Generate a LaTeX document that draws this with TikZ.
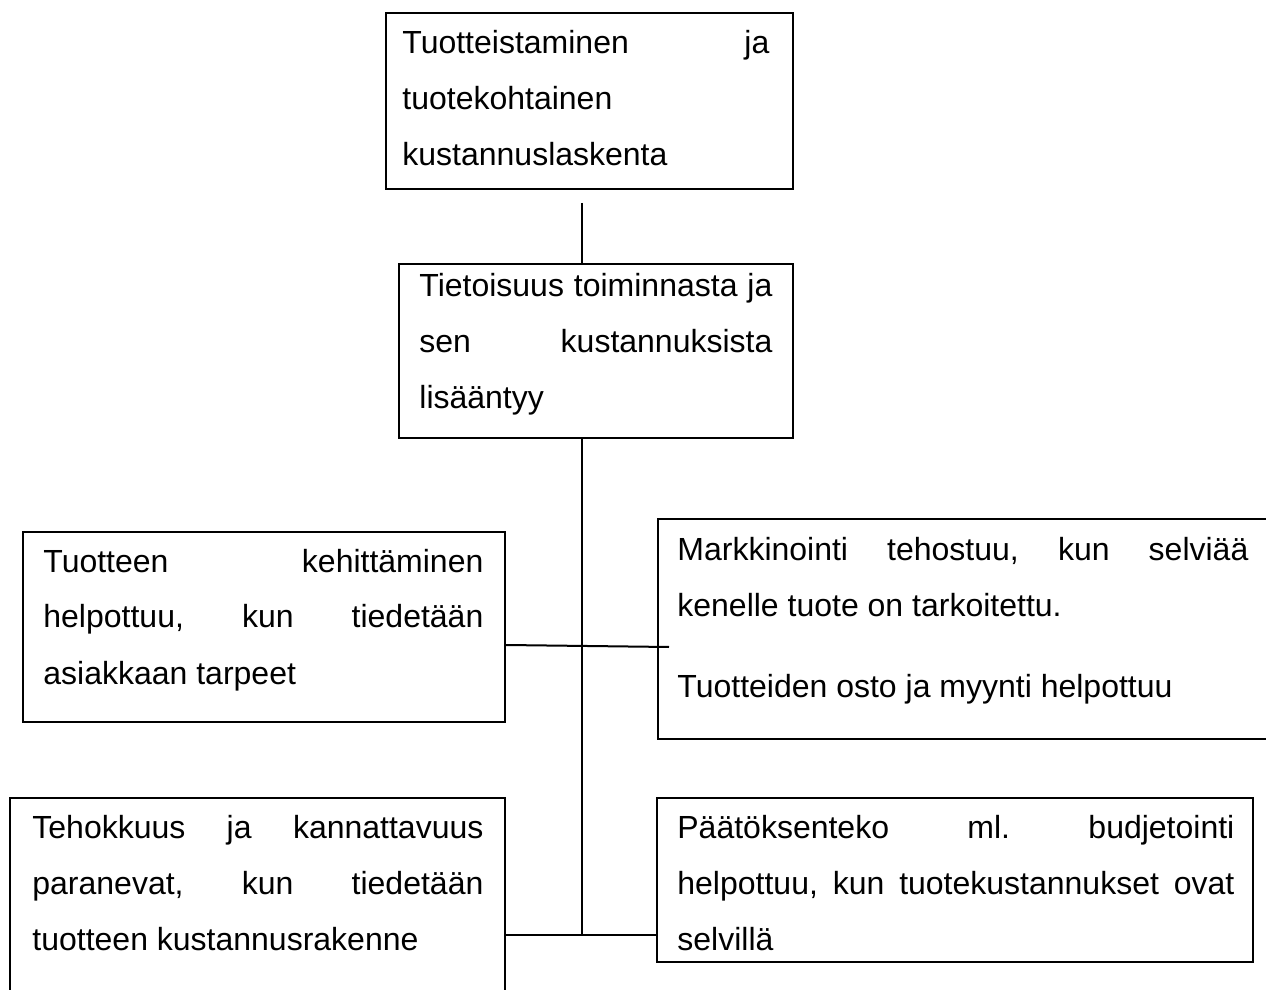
\documentclass[tikz,border=0pt]{standalone}
\usepackage{fontspec}
\setmainfont{Liberation Sans}
\usetikzlibrary{calc}
\begin{document}
\begin{tikzpicture}[x=0.5pt,y=-0.5pt]
\tikzset{
  box/.style={draw, line width=1pt, rectangle, inner sep=0pt, anchor=north west},
  txt/.style={anchor=base west, inner sep=0pt, font=\fontsize{16pt}{28pt}\selectfont},
  conn/.style={line width=1pt}
}
\useasboundingbox (0,0) rectangle (1266,990);
\clip (0,0) rectangle (1266,990);

% boxes
\node[box, minimum width=203.5pt, minimum height=88pt]  (b1) at (385,12) {};
\node[box, minimum width=197pt,   minimum height=87pt]  (b2) at (398,263) {};
\node[box, minimum width=241pt,   minimum height=95pt]  (b3) at (22,531) {};
\node[box, minimum width=311.5pt, minimum height=110pt] (b4) at (657,518) {};
\node[box, minimum width=247.5pt, minimum height=106.5pt] (b5) at (9,797) {};
\node[box, minimum width=298pt,   minimum height=82pt]  (b6) at (656,797) {};

% texts
\node[txt] (t1) at (402,54) {\parbox[t]{183.5pt}{Tuotteistaminen\hfill ja\\tuotekohtainen\\kustannuslaskenta}};
\node[txt] (t2) at (419,297) {\parbox[t]{176.5pt}{Tietoisuus\hfill toiminnasta\hfill ja\\sen\hfill kustannuksista\\lisääntyy}};
\node[txt] (t3) at (43,572) {\parbox[t]{220pt}{Tuotteen\hfill kehittäminen\\helpottuu,\hfill kun\hfill tiedetään\\asiakkaan tarpeet}};
\node[txt] (t4) at (677,560) {\parbox[t]{285.5pt}{Markkinointi\hfill tehostuu,\hfill kun\hfill selviää\\kenelle tuote on tarkoitettu.\\[12.5pt]Tuotteiden osto ja myynti helpottuu}};
\node[txt] (t5) at (32,838) {\parbox[t]{225.5pt}{Tehokkuus\hfill ja\hfill kannattavuus\\paranevat,\hfill kun\hfill tiedetään\\tuotteen kustannusrakenne}};
\node[txt] (t6) at (677,838) {\parbox[t]{278.5pt}{Päätöksenteko\hfill ml.\hfill budjetointi\\helpottuu,\hfill kun\hfill tuotekustannukset\hfill ovat\\selvillä}};

% connectors
\coordinate (c1) at (582,203);
\draw[conn] (c1) -- (c1 |- b2.north);
\coordinate (tb) at (582,935);
\draw[conn] (b2.south -| tb) -- (tb);
\coordinate (m1) at (504,645);
\coordinate (m2) at (669,647);
\draw[conn] (b3.east |- m1) -- (m2);
\draw[conn] (b5.east |- tb) -- (b6.west |- tb);
\end{tikzpicture}
\end{document}
